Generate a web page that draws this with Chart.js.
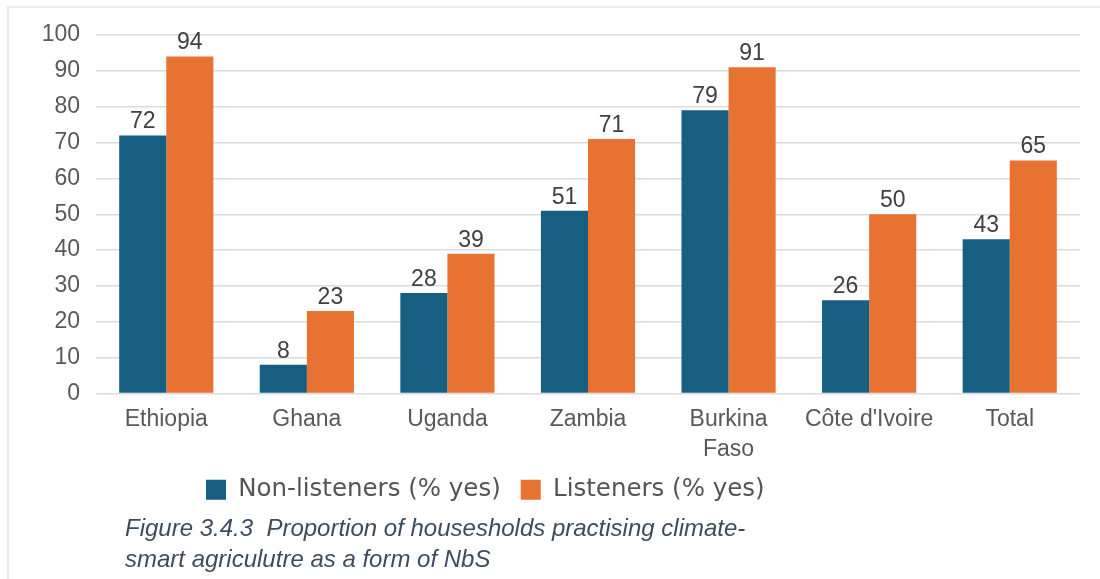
<!DOCTYPE html>
<html>
<head>
<meta charset="utf-8">
<script src="https://cdn.jsdelivr.net/npm/chart.js@4"></script>
<style>
    body { margin: 0; background: #fff; }
    #wrap { position: relative; width: 1100px; height: 579px; overflow: hidden; }
    #frame { position: absolute; left: 7px; top: 6px; width: 1100px; height: 600px;
             border-left: 2px solid #ececec; border-top: 2px solid #ececec; }
    #chart { position: absolute; left: 0; top: 0; }
    #caption { position: absolute; left: 125px; top: 512px; font-family: "Liberation Sans", Arial, sans-serif;
               font-style: italic; font-size: 24px; line-height: 31px; color: #3e4c5c; white-space: nowrap; }
</style>
</head>
<body>
<div id="wrap">
    <div id="frame"></div>
    <canvas id="chart" width="1100" height="579"></canvas>
    <div id="caption">Figure 3.4.3&nbsp; Proportion of housesholds practising climate-<br>smart agriculutre as a form of NbS</div>
</div>
<script>
// Data
const countries = ['Ethiopia', 'Ghana', 'Uganda', 'Zambia', ['Burkina', 'Faso'], "Côte d'Ivoire", 'Total'];
const nonListeners = [72, 8, 28, 51, 79, 26, 43];
const listeners = [94, 23, 39, 71, 91, 50, 65];
const yTicks = [0, 10, 20, 30, 40, 50, 60, 70, 80, 90, 100];

const fontFamily = '"Liberation Sans", Arial, sans-serif';

// Value labels above bars
const valueLabels = {
    id: 'valueLabels',
    afterDatasetsDraw(chart) {
        const ctx = chart.ctx;
        ctx.save();
        ctx.font = '23px ' + fontFamily;
        ctx.fillStyle = '#404040';
        ctx.textAlign = 'center';
        ctx.textBaseline = 'bottom';
        chart.data.datasets.forEach((ds, i) => {
            chart.getDatasetMeta(i).data.forEach((bar, j) => {
                ctx.fillText(ds.data[j], bar.x, bar.y - 2);
            });
        });
        ctx.restore();
    }
};

// Move legend to start under the first categories, like the original
const legendShift = {
    id: 'legendShift',
    afterUpdate(chart) {
        const lg = chart.legend;
        if (!lg || !lg.lineWidths) return;
        const pad = lg.options.labels.padding;
        const cur = (lg.left + pad + lg.right - lg.lineWidths[0]) / 2;
        const dx = 206 - cur;
        lg.left += dx;
        lg.right += dx;
    }
};

new Chart(document.getElementById('chart'), {
    type: 'bar',
    data: {
        labels: countries,
        datasets: [
            { label: 'Non-listeners (% yes)', data: nonListeners, backgroundColor: '#175f80' },
            { label: 'Listeners (% yes)', data: listeners, backgroundColor: '#e87232' }
        ]
    },
    options: {
        responsive: false,
        animation: false,
        layout: { padding: { top: 35, right: 20, bottom: 67, left: 0 } },
        datasets: { bar: { categoryPercentage: 0.67, barPercentage: 1 } },
        scales: {
            x: {
                grid: { display: false, drawTicks: false },
                border: { display: false },
                ticks: { color: '#595959', font: { family: fontFamily, size: 23, lineHeight: 1.3 }, padding: 11, maxRotation: 0 },
                afterFit(scale) { scale.height = 64; }
            },
            y: {
                min: 0,
                max: 100,
                afterBuildTicks(scale) { scale.ticks = yTicks.map(v => ({ value: v })); },
                grid: { color: '#dcdcdc', lineWidth: 1.5, drawTicks: false },
                border: { display: false },
                ticks: { color: '#595959', font: { family: fontFamily, size: 23 }, padding: 16 },
                afterFit(scale) { scale.width = 96; }
            }
        },
        plugins: {
            legend: {
                position: 'bottom',
                labels: {
                    boxWidth: 20,
                    boxHeight: 20,
                    padding: 20,
                    color: '#555555',
                    font: { family: '"DejaVu Sans", sans-serif', size: 24.5 }
                }
            },
            tooltip: { enabled: false }
        }
    },
    plugins: [valueLabels, legendShift]
});
</script>
</body>
</html>
